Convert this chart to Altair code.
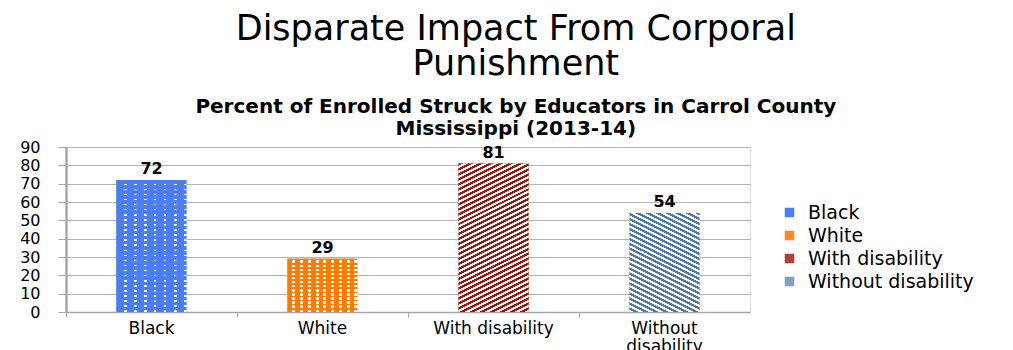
import altair as alt
import pandas as pd

categories = ["Black", "White", "With disability", "Without disability"]
values = [72, 29, 81, 54]
solid_colors = ["#4a7ef2", "#ff8a1f", "#b0403a", "#7d9fca"]

df = pd.DataFrame({"cat": categories, "val": values})

PLOT_W, PLOT_H, YMAX = 684, 165, 90
FONT = "DejaVu Sans"

x_enc = alt.X("cat:N", sort=categories,
              scale=alt.Scale(domain=categories, paddingInner=0, paddingOuter=0),
              axis=alt.Axis(title=None, labelFont=FONT, labelFontSize=17, labelColor="black",
                            labelAngle=0, labelPadding=3, tickSize=5, tickColor="#a6a6a6",
                            bandPosition=0, domainColor="#a6a6a6", domainWidth=1.5,
                            labelExpr="datum.value == 'Without disability' ? ['Without', 'disability'] : datum.value",
                            labelLineHeight=18, labelBaseline="top"))
y_enc = alt.Y("val:Q", scale=alt.Scale(domain=[0, YMAX]),
              axis=alt.Axis(title=None, values=list(range(0, 91, 10)), labelFont=FONT, labelFontSize=16,
                            labelColor="black", labelPadding=18, tickSize=8, tickColor="#a6a6a6",
                            gridColor="#b3b3b3", domainColor="#a6a6a6", domainWidth=2.5))


def stripes(c1, c2, n, frac, x1, y1, x2, y2):
    stops = []
    for i in range(n):
        a = i / n
        b = (i + frac) / n
        c = (i + 1) / n
        stops += [alt.GradientStop(offset=a, color=c1), alt.GradientStop(offset=b, color=c1),
                  alt.GradientStop(offset=b, color=c2), alt.GradientStop(offset=c, color=c2)]
    return alt.LinearGradient(gradient="linear", stops=stops, x1=x1, y1=y1, x2=x2, y2=y2)


def bar_h(v):
    return v * PLOT_H / YMAX


base = alt.Chart(df).mark_bar(size=70).encode(
    x=x_enc, y=y_enc,
    color=alt.Color("cat:N", sort=categories,
                    scale=alt.Scale(domain=categories, range=solid_colors),
                    legend=alt.Legend(title=None, orient="none", legendX=714, legendY=56,
                                      symbolType="square", symbolSize=90, labelFont=FONT,
                                      labelFontSize=19, labelColor="black", rowPadding=3,
                                      symbolStrokeWidth=0, labelOffset=9, labelLimit=400)),
)

layers = [base]


def grad_layer(cat, grad):
    return alt.Chart(df).transform_filter(alt.datum.cat == cat).mark_bar(size=70, fill=grad).encode(
        x=x_enc, y=y_enc)


# Black: blue with small white dashes in columns
hb = bar_h(values[0])
layers.append(grad_layer("Black", stripes("#4a7ef2", "#ffffff", 7, 0.78, 0, 0, 1, 0)))
layers.append(grad_layer("Black", stripes("#4a7ef2", "rgba(74,126,242,0)", round(hb / 5), 0.7, 0, 0, 0, 1)))

# White: orange small grid
hw = bar_h(values[1])
layers.append(grad_layer("White", stripes("#ff7b00", "#ffffff", 9, 0.6, 0, 0, 1, 0)))
layers.append(grad_layer("White", stripes("#ff7b00", "rgba(255,123,0,0)", round(hw / 4), 0.4, 0, 0, 0, 1)))

# With disability: dark red upward diagonal stripes
a = 0.5 * 70 / bar_h(values[2])
k = (a + 1) / (a * a + 1)
layers.append(grad_layer("With disability",
                         stripes("#a3150c", "#ffffff", round(bar_h(values[2]) * (1 + a) / 5), 0.5, 0, 0, k * a, k)))

# Without disability: steel blue downward diagonal stripes
a2 = 0.5 * 70 / bar_h(values[3])
k2 = (a2 + 1) / (a2 * a2 + 1)
layers.append(grad_layer("Without disability",
                         stripes("#4a78b0", "#ffffff", round(bar_h(values[3]) * (1 + a2) / 5), 0.5, 1, 0, 1 - k2 * a2, k2)))

text = alt.Chart(df).mark_text(font=FONT, fontSize=16, fontWeight="bold", color="black", dy=-11).encode(
    x=x_enc, y=y_enc, text="val:Q")
layers.append(text)

chart = alt.layer(*layers).properties(
    width=PLOT_W, height=PLOT_H,
    padding={"left": 19, "top": 12, "right": 3, "bottom": 5},
    title=alt.Title(text=["Disparate Impact From Corporal", "Punishment"],
                    subtitle=["Percent of Enrolled Struck by Educators in Carrol County", "Mississippi (2013-14)"],
                    font=FONT, fontSize=35, fontWeight="normal", lineHeight=35, color="black",
                    subtitleFont=FONT, subtitleFontSize=20, subtitleFontWeight="bold", subtitleLineHeight=22,
                    subtitleColor="black", subtitlePadding=15, anchor="middle", frame="bounds", offset=0, dx=19),
).configure_view(stroke=None).configure(background="white")

chart.save("out.html", embed_options={"renderer": "svg", "actions": False})
